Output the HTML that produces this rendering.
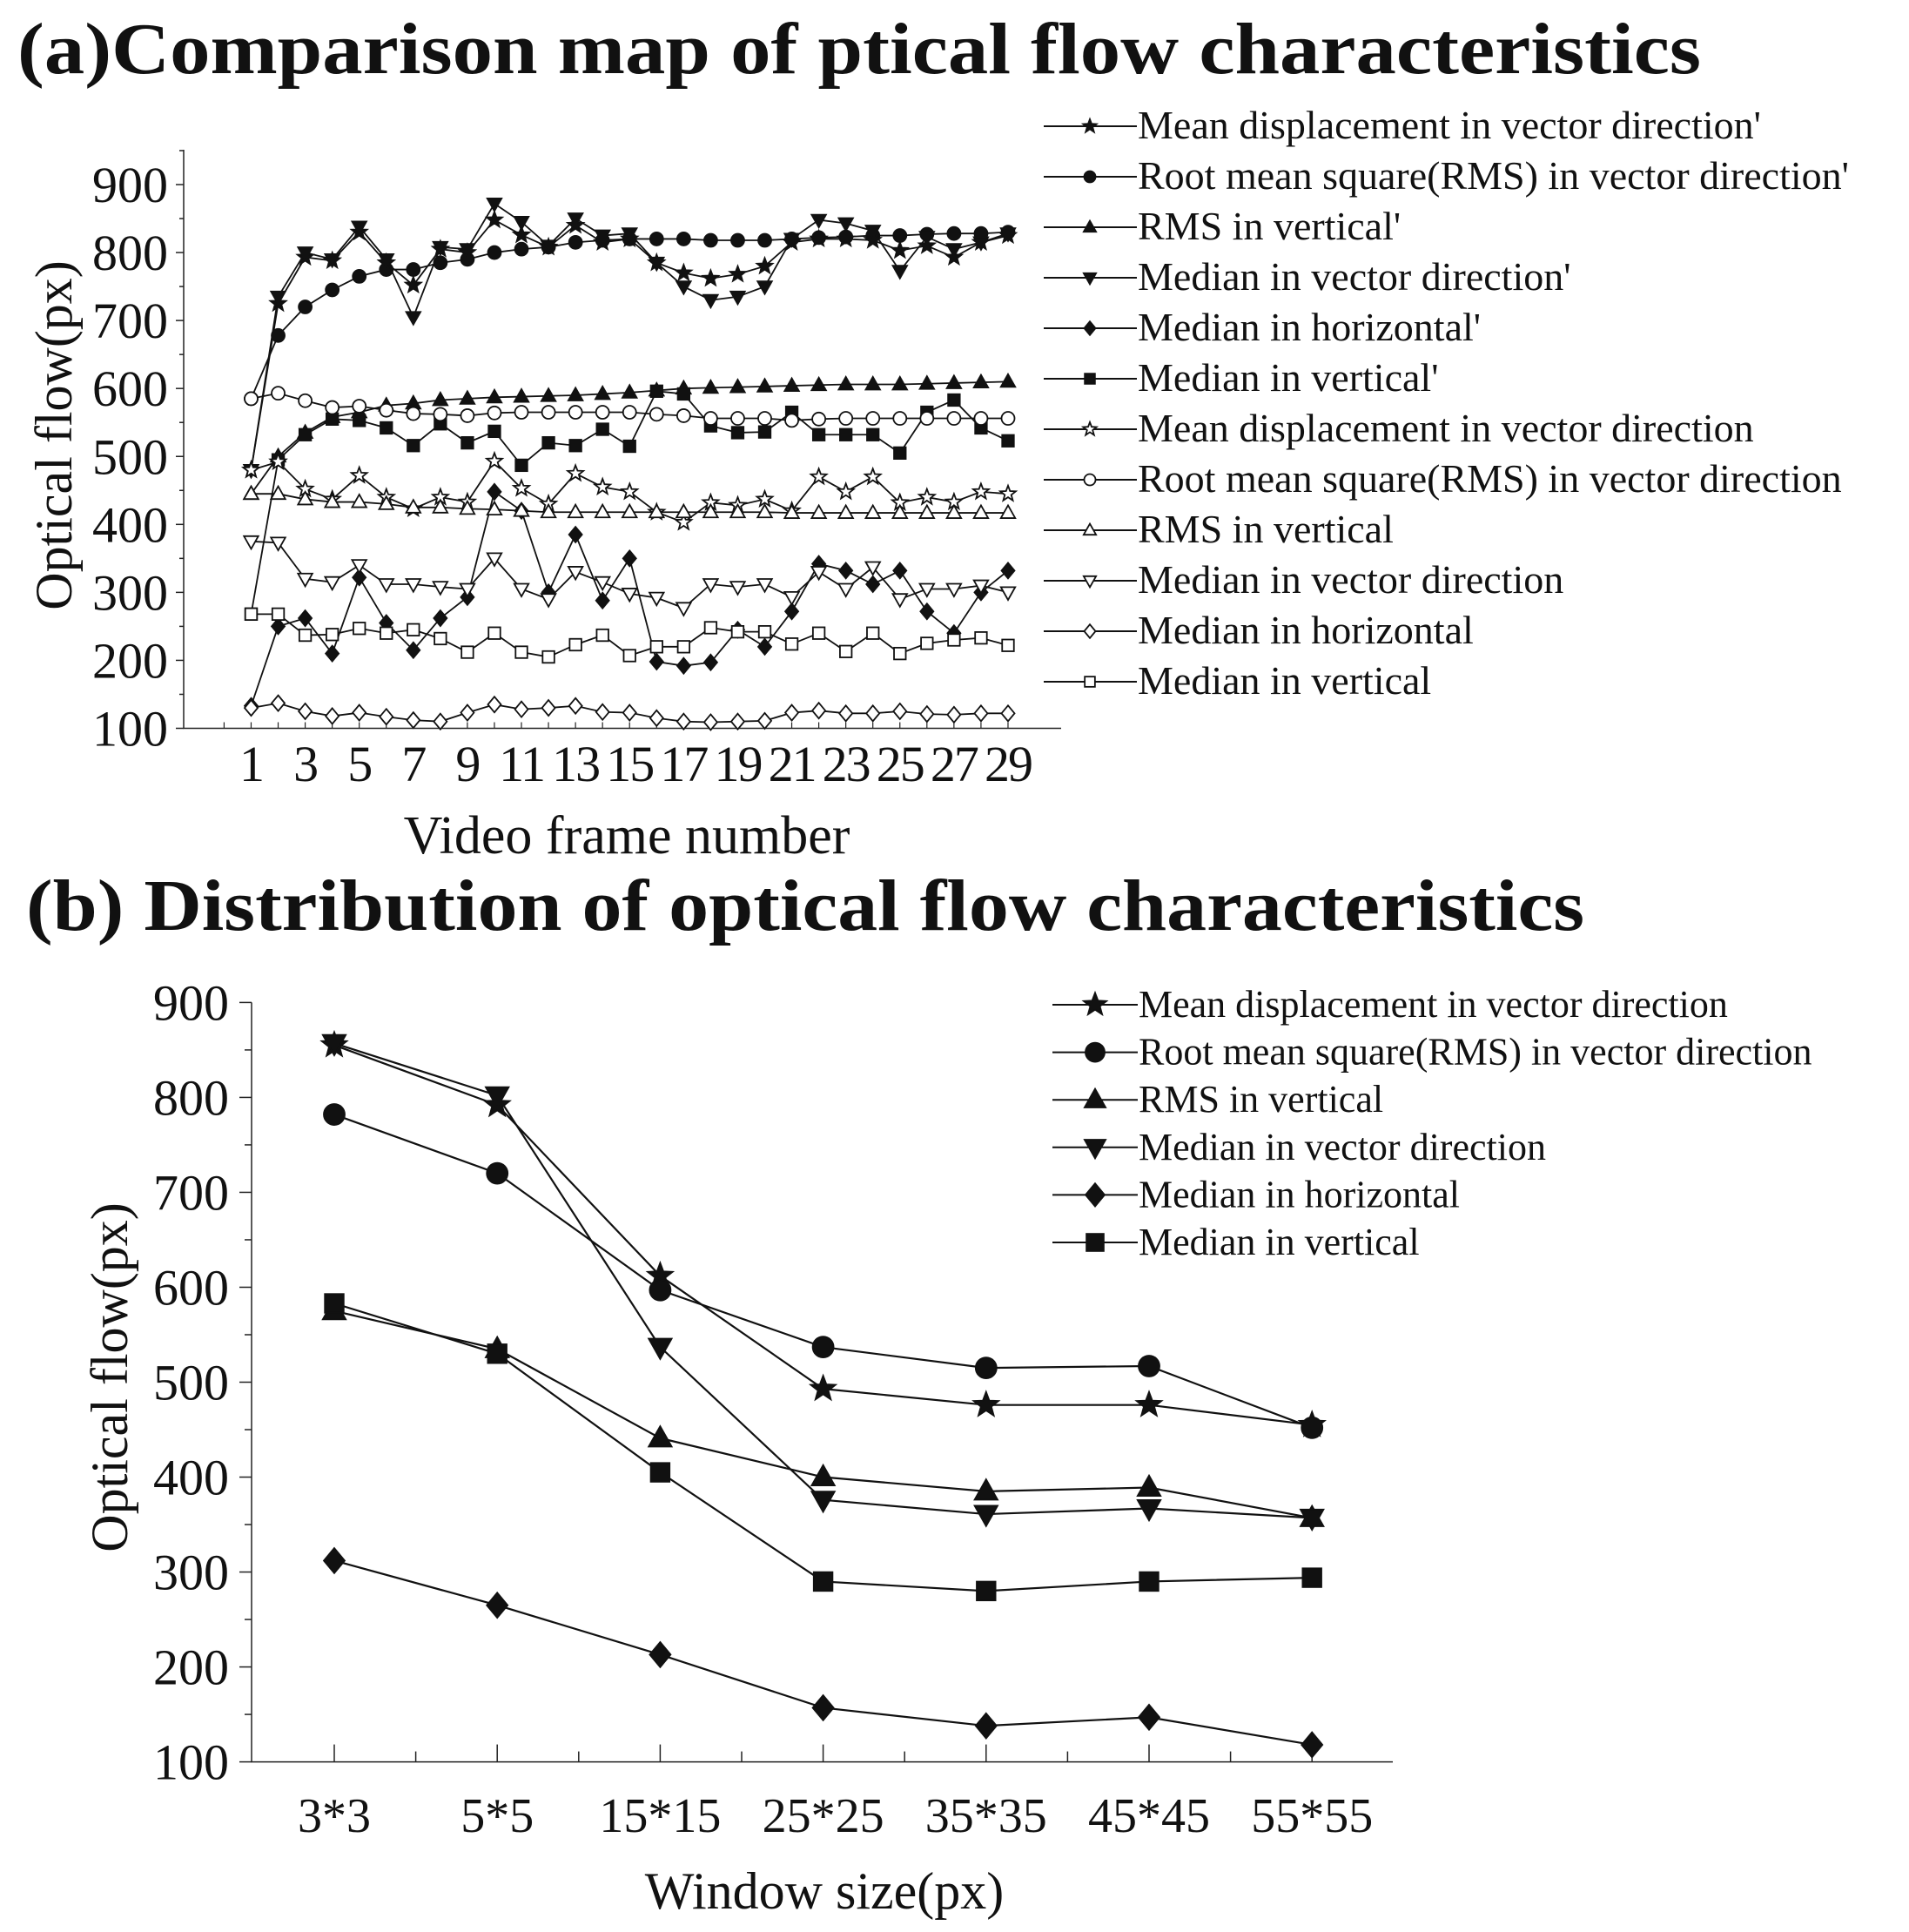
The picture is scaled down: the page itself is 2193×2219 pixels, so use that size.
<!DOCTYPE html>
<html><head><meta charset="utf-8"><style>
body{margin:0;background:#fff}
svg{display:block}
text{font-family:"Liberation Serif",serif;fill:#111}
</style></head><body>
<svg id="s" width="2193" height="2219" viewBox="0 0 2193 2219" xmlns="http://www.w3.org/2000/svg">
<text x="20" y="84" font-size="84" font-weight="bold" textLength="1934" lengthAdjust="spacingAndGlyphs">(a)Comparison map of ptical flow characteristics</text>
<text x="30" y="1068" font-size="84" font-weight="bold" textLength="1790" lengthAdjust="spacingAndGlyphs">(b) Distribution of optical flow characteristics</text>
<g id="ga"></g>
<g id="gb"></g>
</svg>
<script>
const framesA = [];
for (let i = 1; i <= 29; i++) framesA.push(i);
const meanDispP = [480,725,793,788,830,785,752,805,800,848,826,808,840,815,820,785,770,762,768,780,815,820,820,818,803,810,793,815,825];
const rmsVecP = [585,678,720,745,765,775,775,785,790,800,805,808,815,818,820,820,820,818,818,818,820,822,823,825,825,827,828,828,830];
const rmsVertP = [445,500,535,558,565,575,578,583,585,587,588,589,590,592,594,597,600,601,602,603,604,605,606,606,606,607,608,609,610];
const medVecP = [480,735,800,790,838,790,705,808,805,872,845,810,850,825,828,785,750,730,735,750,820,848,843,832,773,823,805,815,828];
const medHorP = [133,250,262,210,322,255,215,262,293,448,420,300,385,288,350,198,192,197,245,220,272,342,332,312,332,272,240,300,332];
const medVertP = [268,495,532,555,553,542,516,548,520,537,487,520,516,540,515,596,592,545,535,536,565,532,532,532,505,565,583,542,523];
const meanDisp = [480,492,452,437,472,440,423,440,433,493,453,430,475,455,448,418,403,432,428,437,420,470,448,470,432,440,433,448,445];
const rmsVec = [585,593,582,572,574,568,563,562,560,564,565,565,565,565,565,562,560,556,556,556,553,555,556,556,556,556,556,556,556];
const rmsVert = [445,445,437,433,433,430,425,425,423,422,420,418,418,418,418,418,418,418,418,418,417,417,417,417,417,417,417,417,417];
const medVec = [375,373,320,315,340,312,312,308,305,350,305,290,330,315,298,292,277,312,308,312,293,330,305,337,290,305,305,310,300];
const medHor = [130,137,125,118,123,117,112,110,123,135,128,130,133,124,123,115,110,109,110,111,123,126,122,122,125,121,120,122,122];
const medVert = [268,268,237,238,247,240,245,232,212,240,212,205,223,237,207,220,220,248,242,242,224,240,213,240,210,225,230,233,222];
const yTicks = [100,200,300,400,500,600,700,800,900];
const labelsA = ["Mean displacement in vector direction'","Root mean square(RMS) in vector direction'","RMS in vertical'","Median in vector direction'","Median in horizontal'","Median in vertical'","Mean displacement in vector direction","Root mean square(RMS) in vector direction","RMS in vertical","Median in vector direction","Median in horizontal","Median in vertical"];
const catsB = ["3*3","5*5","15*15","25*25","35*35","45*45","55*55"];
const bStar = [855,792,612,493,476,476,455];
const bCircle = [782,720,597,537,515,517,452];
const bTri = [575,535,441,400,385,389,357];
const bDown = [857,802,537,376,361,367,357];
const bDiamond = [312,265,213,157,138,147,118];
const bSquare = [583,530,405,290,280,290,294];
const labelsB = ["Mean displacement in vector direction","Root mean square(RMS) in vector direction","RMS in vertical","Median in vector direction","Median in horizontal","Median in vertical"];

const NS = "http://www.w3.org/2000/svg";
function mk(p, tag, at) { const e = document.createElementNS(NS, tag); for (const k in at) e.setAttribute(k, at[k]); p.appendChild(e); return e; }
function starPts(cx, cy, r) { let s = []; for (let i = 0; i < 10; i++) { const a = -Math.PI/2 + i*Math.PI/5, rr = i%2 ? r*0.42 : r; s.push((cx+rr*Math.cos(a)).toFixed(1)+","+(cy+rr*Math.sin(a)).toFixed(1)); } return s.join(" "); }
function marker(g, type, cx, cy, r, filled) {
  const st = {fill: filled ? "#111" : "#fff", stroke: "#111", "stroke-width": 1.8};
  let e;
  if (type === "star") e = mk(g, "polygon", Object.assign({points: starPts(cx, cy, r*1.25)}, st));
  else if (type === "circle") e = mk(g, "circle", Object.assign({cx: cx, cy: cy, r: r}, st));
  else if (type === "tri") e = mk(g, "polygon", Object.assign({points: `${cx},${cy-r*1.15} ${cx+r*1.1},${cy+r*0.8} ${cx-r*1.1},${cy+r*0.8}`}, st));
  else if (type === "down") e = mk(g, "polygon", Object.assign({points: `${cx},${cy+r*1.15} ${cx+r*1.1},${cy-r*0.8} ${cx-r*1.1},${cy-r*0.8}`}, st));
  else if (type === "diamond") e = mk(g, "polygon", Object.assign({points: `${cx},${cy-r*1.2} ${cx+r},${cy} ${cx},${cy+r*1.2} ${cx-r},${cy}`}, st));
  else e = mk(g, "rect", Object.assign({x: cx-r*0.9, y: cy-r*0.9, width: r*1.8, height: r*1.8}, st));
  
  
}

// ---------- Chart A ----------
(function(){
  const g = document.getElementById("ga");
  const X0 = 211, XE = 1219, y100 = 836.5, y900 = 212;
  const xs = f => 288.5 + (f-1)*(1158-288.5)/28;
  const ys = v => y100 - (v-100)*(y100-y900)/800;
  const ax = mk(g, "path", {d:`M${X0},172 V${y100} H${XE}`, fill:"none", stroke:"#222", "stroke-width":1.5});
  
  
  for (let v = 100; v <= 950; v += 50) mk(g, "line", {x1:X0-(v%100?5:9), x2:X0, y1:ys(v), y2:ys(v), stroke:"#222","stroke-width":1.5});
  for (let i = 0; i <= 29; i++) { const x = 288.5 + (i-1.5)*(1158-288.5)/28 + 15.5; if (x > X0 && x < XE) mk(g, "line", {x1:x, x2:x, y1:y100, y2:y100-7, stroke:"#222","stroke-width":1.2}); }
  yTicks.forEach(v => { const t = mk(g, "text", {x:X0-18, y:ys(v)+20, "font-size":58, "text-anchor":"end"}); t.textContent = v;
    
     });
  framesA.forEach(f => { if (f % 2) { const t = mk(g, "text", {x:xs(f), y:897, "font-size":58, "text-anchor":"middle", "letter-spacing":"-2"}); t.textContent = f;
    
     } });
  const yt = mk(g, "text", {x:0, y:0, "font-size":60, "text-anchor":"middle", transform:"translate(82,500) rotate(-90)"}); yt.textContent = "Optical flow(px)";
  
  
  const xt = mk(g, "text", {x:720, y:980, "font-size":62, "text-anchor":"middle"}); xt.textContent = "Video frame number";
  
  
  const series = [[meanDispP,"star",1],[rmsVecP,"circle",1],[rmsVertP,"tri",1],[medVecP,"down",1],[medHorP,"diamond",1],[medVertP,"square",1],[meanDisp,"star",0],[rmsVec,"circle",0],[rmsVert,"tri",0],[medVec,"down",0],[medHor,"diamond",0],[medVert,"square",0]];
  series.forEach((s, k) => {
    const sg = mk(g, "g", {});
    
    
    mk(sg, "polyline", {points: s[0].map((v,i)=>xs(framesA[i])+","+ys(v)).join(" "), fill:"none", stroke:"#111", "stroke-width":1.8});
    s[0].forEach((v,i) => marker(sg, s[1], xs(framesA[i]), ys(v), 7.5, s[2]));
    const ly = 145 + k*58;
    const lg = mk(g, "g", {});
    
    
    mk(lg, "line", {x1:1199, x2:1306, y1:ly, y2:ly, stroke:"#111","stroke-width":2});
    marker(lg, s[1], 1252, ly, 6.5, s[2]);
    const t = mk(lg, "text", {x:1307, y:ly+14, "font-size":46}); t.textContent = labelsA[k];
  });
})();

// ---------- Chart B ----------
(function(){
  const g = document.getElementById("gb");
  const X0 = 289, XE = 1600, y100 = 2023.6, y900 = 1151.4;
  const xs = i => 384 + i*187.2;
  const ys = v => y100 - (v-100)*(y100-y900)/800;
  const ax = mk(g, "path", {d:`M${X0},${y900} V${y100} H${XE}`, fill:"none", stroke:"#222", "stroke-width":1.5});
  
  
  for (let v = 100; v <= 900; v += 50) mk(g, "line", {x1:X0-(v%100?8:14), x2:X0, y1:ys(v), y2:ys(v), stroke:"#222","stroke-width":1.5});
  for (let i = 0; i < 13; i++) { const x = 384 + i*93.6; mk(g, "line", {x1:x, x2:x, y1:y100, y2:y100-(i%2?12:20), stroke:"#222","stroke-width":1.5}); }
  yTicks.forEach(v => { const t = mk(g, "text", {x:X0-26, y:ys(v)+20, "font-size":58, "text-anchor":"end"}); t.textContent = v;
    
     });
  catsB.forEach((c,i) => { const t = mk(g, "text", {x:xs(i), y:2104, "font-size":56, "text-anchor":"middle"}); t.textContent = c;
    
     });
  const yt = mk(g, "text", {x:0, y:0, "font-size":60, "text-anchor":"middle", transform:"translate(146,1582) rotate(-90)"}); yt.textContent = "Optical flow(px)";
  
  
  const xt = mk(g, "text", {x:947, y:2192, "font-size":60, "text-anchor":"middle"}); xt.textContent = "Window size(px)";
  
  
  const series = [[bStar,"star"],[bCircle,"circle"],[bTri,"tri"],[bDown,"down"],[bDiamond,"diamond"],[bSquare,"square"]];
  series.forEach((s,k) => {
    const sg = mk(g, "g", {});
    
    
    mk(sg, "polyline", {points: s[0].map((v,i)=>xs(i)+","+ys(v)).join(" "), fill:"none", stroke:"#111", "stroke-width":2.2});
    s[0].forEach((v,i) => marker(sg, s[1], xs(i), ys(v), 12, 1));
    const ly = 1154 + k*54.6;
    const lg = mk(g, "g", {});
    
    
    mk(lg, "line", {x1:1209, x2:1307, y1:ly, y2:ly, stroke:"#111","stroke-width":2});
    marker(lg, s[1], 1258, ly, 11, 1);
    const t = mk(lg, "text", {x:1308, y:ly+14, "font-size":44}); t.textContent = labelsB[k];
  });
})();
</script>
</body></html>
